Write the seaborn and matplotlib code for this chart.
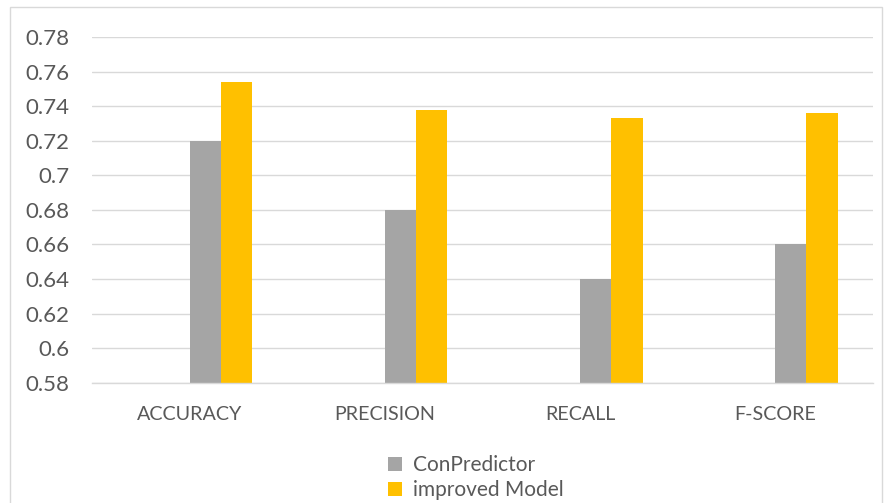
import matplotlib
matplotlib.use("Agg")
import matplotlib.pyplot as plt
from matplotlib.patches import Rectangle, Patch
import seaborn as sns
import pandas as pd

metrics = ["ACCURACY", "PRECISION", "RECALL", "F-SCORE"]
conpredictor = [0.72, 0.68, 0.64, 0.66]
improved_model = [0.754, 0.738, 0.733, 0.736]
series_names = ["ConPredictor", "improved Model"]
y_ticks = [0.58, 0.60, 0.62, 0.64, 0.66, 0.68, 0.70, 0.72, 0.74, 0.76, 0.78]
y_tick_labels = ["0.58", "0.6", "0.62", "0.64", "0.66", "0.68", "0.7", "0.72", "0.74", "0.76", "0.78"]

GRAY = "#A5A5A5"
GOLD = "#FFC000"
TEXT = "#595959"
GRID = "#D9D9D9"

sns.set_theme(style="white")
plt.rcParams["font.family"] = ["Lato", "DejaVu Sans"]

df = pd.DataFrame({
    "metric": metrics * 2,
    "value": conpredictor + improved_model,
    "model": [series_names[0]] * 4 + [series_names[1]] * 4,
})

fig = plt.figure(figsize=(8.91, 5.03), dpi=100)
ax = fig.add_axes([0.1033, 0.2392, 0.9795 - 0.1033, 0.9264 - 0.2392])

# two unused series slots sit ahead of the plotted ones in each group
hue_order = ["slot_a", "slot_b"] + series_names
sns.barplot(data=df, x="metric", y="value", hue="model", hue_order=hue_order,
            order=metrics, palette=["white", "white", GRAY, GOLD],
            width=0.641, dodge=True, saturation=1, legend=False, ax=ax,
            linewidth=0, errorbar=None)

ax.set_ylim(0.58, 0.78)
ax.set_xlim(-0.5, 3.5)
ax.set_yticks(y_ticks)
ax.set_yticklabels(y_tick_labels)
ax.yaxis.grid(True, color=GRID, linewidth=1.0)
ax.set_axisbelow(True)
for side in ["top", "right", "left"]:
    ax.spines[side].set_visible(False)
ax.spines["bottom"].set_color(GRID)
ax.spines["bottom"].set_linewidth(1.0)
ax.tick_params(axis="y", length=0, pad=16, labelsize=16, labelcolor=TEXT)
ax.tick_params(axis="x", length=0, pad=16.5, labelsize=14.2, labelcolor=TEXT)
ax.set_xlabel("")
ax.set_ylabel("")

handles = [Patch(facecolor=GRAY, edgecolor="none"), Patch(facecolor=GOLD, edgecolor="none")]
fig.legend(handles, series_names, loc="center", bbox_to_anchor=(476 / 891, 1 - 477.5 / 503),
           ncol=1, frameon=False, fontsize=15, labelcolor=TEXT,
           handlelength=0.65, handleheight=0.65, handletextpad=0.55, labelspacing=0.25)

fig.patches.append(Rectangle((10 / 891, -0.05), (882 - 10) / 891, 1.05 - 7 / 503,
                             transform=fig.transFigure, fill=False,
                             edgecolor=GRID, linewidth=1.0))

fig.savefig("out.png", dpi=100, facecolor="white")
